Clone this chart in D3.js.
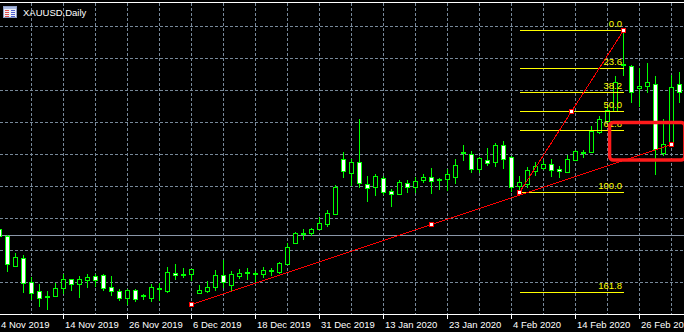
<!DOCTYPE html>
<html>
<head>
<meta charset="utf-8">
<script src="https://cdn.jsdelivr.net/npm/d3@7"></script>
<style>
html, body { margin: 0; padding: 0; background: #000; overflow: hidden; }
svg { display: block; }
text { font-family: "Liberation Sans", Arial, sans-serif; font-size: 9.5px; }
</style>
</head>
<body>
<svg id="chart" width="684" height="332"></svg>
<script>
// XAUUSD daily bars, 4 Nov 2019 .. 4 Mar 2020
var dates = [
  "2019-11-04","2019-11-05","2019-11-06","2019-11-07","2019-11-08","2019-11-11","2019-11-12","2019-11-13","2019-11-14","2019-11-15",
  "2019-11-18","2019-11-19","2019-11-20","2019-11-21","2019-11-22","2019-11-25","2019-11-26","2019-11-27","2019-11-28","2019-11-29",
  "2019-12-02","2019-12-03","2019-12-04","2019-12-05","2019-12-06","2019-12-09","2019-12-10","2019-12-11","2019-12-12","2019-12-13",
  "2019-12-16","2019-12-17","2019-12-18","2019-12-19","2019-12-20","2019-12-23","2019-12-24","2019-12-26","2019-12-27","2019-12-30",
  "2019-12-31","2020-01-02","2020-01-03","2020-01-06","2020-01-07","2020-01-08","2020-01-09","2020-01-10","2020-01-13","2020-01-14",
  "2020-01-15","2020-01-16","2020-01-17","2020-01-20","2020-01-21","2020-01-22","2020-01-23","2020-01-24","2020-01-27","2020-01-28",
  "2020-01-29","2020-01-30","2020-01-31","2020-02-03","2020-02-04","2020-02-05","2020-02-06","2020-02-07","2020-02-10","2020-02-11",
  "2020-02-12","2020-02-13","2020-02-14","2020-02-17","2020-02-18","2020-02-19","2020-02-20","2020-02-21","2020-02-24","2020-02-25",
  "2020-02-26","2020-02-27","2020-02-28","2020-03-02","2020-03-03","2020-03-04"
];

var open = [
  1514.6,1508.5,1482.3,1489.3,1468.3,1460.4,1455.1,1456.0,1463.0,1470.9,
  1466.5,1470.0,1473.5,1474.4,1463.9,1460.4,1454.3,1461.3,1456.0,1454.3,
  1462.1,1460.4,1476.1,1474.4,1475.3,1458.6,1460.4,1463.9,1474.4,1465.6,
  1473.5,1476.1,1475.3,1475.3,1477.9,1477.0,1484.0,1502.4,1510.3,1511.1,
  1514.6,1519.0,1527.8,1575.9,1563.6,1573.3,1554.0,1551.4,1559.3,1547.9,
  1545.3,1554.9,1551.4,1557.5,1560.1,1557.5,1558.4,1560.1,1581.1,1580.3,
  1567.1,1575.0,1573.3,1588.1,1577.6,1552.3,1554.0,1565.4,1568.0,1571.5,
  1567.1,1564.5,1575.0,1581.1,1582.0,1599.5,1609.1,1617.9,1658.1,1657.3,
  1638.0,1639.8,1641.5,1581.1,1588.1,1641.5
];
var high = [
  1515.5,1509.4,1493.6,1491.9,1472.6,1466.5,1460.4,1467.4,1475.3,1470.9,
  1473.5,1475.3,1475.3,1475.3,1473.5,1462.1,1462.1,1462.1,1457.8,1466.5,
  1467.4,1481.4,1484.0,1480.5,1479.6,1465.6,1469.1,1478.8,1487.5,1477.9,
  1479.6,1480.5,1477.9,1481.4,1480.5,1485.8,1502.4,1512.0,1514.6,1515.5,
  1525.1,1531.3,1553.1,1582.0,1575.9,1610.9,1561.0,1562.8,1561.0,1549.6,
  1557.5,1557.5,1560.1,1562.8,1568.0,1559.3,1567.1,1575.9,1588.1,1582.9,
  1577.6,1585.5,1589.9,1591.6,1578.5,1561.0,1568.9,1573.3,1575.0,1575.9,
  1569.8,1579.4,1583.8,1583.8,1604.8,1613.5,1622.3,1648.5,1688.8,1658.1,
  1655.5,1659.9,1648.5,1610.9,1649.4,1652.0
];
var low = [
  1506.8,1477.9,1482.3,1459.5,1453.4,1447.3,1444.6,1456.0,1458.6,1461.3,
  1455.1,1463.9,1464.8,1461.3,1456.9,1452.5,1449.0,1451.6,1453.4,1451.6,
  1452.5,1459.5,1470.9,1472.6,1470.0,1458.6,1459.5,1461.3,1463.9,1461.3,
  1471.8,1470.9,1469.1,1472.6,1474.4,1476.1,1484.0,1502.4,1505.9,1509.4,
  1514.6,1517.3,1527.8,1560.1,1553.1,1551.4,1539.1,1544.4,1545.3,1534.8,
  1545.3,1547.0,1547.0,1555.8,1546.1,1549.6,1548.8,1554.9,1575.0,1564.5,
  1564.5,1570.6,1569.8,1568.0,1547.9,1547.0,1551.4,1561.9,1567.1,1561.0,
  1560.1,1564.5,1575.0,1577.6,1582.0,1598.6,1608.3,1617.9,1649.4,1625.8,
  1622.3,1634.5,1562.8,1579.4,1588.1,1625.8
];
var close = [
  1508.5,1484.0,1490.1,1467.4,1458.6,1454.3,1455.1,1463.0,1470.9,1466.5,
  1470.9,1472.6,1470.0,1463.0,1460.4,1454.3,1461.3,1453.4,1456.0,1463.9,
  1462.1,1477.0,1474.4,1474.4,1479.6,1461.3,1463.9,1474.4,1468.3,1475.3,
  1476.1,1476.1,1475.3,1478.8,1477.9,1484.9,1498.9,1511.1,1510.3,1514.6,
  1519.9,1528.6,1551.4,1565.4,1573.3,1554.9,1550.5,1561.0,1547.0,1545.3,
  1555.8,1551.4,1556.6,1560.1,1556.6,1557.5,1562.8,1570.6,1581.1,1567.1,
  1576.8,1572.4,1588.1,1575.9,1551.4,1555.8,1566.3,1569.8,1571.5,1566.3,
  1565.4,1575.9,1582.9,1581.1,1600.4,1610.9,1618.8,1643.3,1658.1,1634.5,
  1639.8,1643.3,1584.6,1589.0,1638.9,1634.5
];

var gridPrices = [1692.25, 1664.25, 1636.25, 1608.25, 1580.25, 1552.25, 1524.25, 1496.25, 1468.25];
var hLinePrice = 1509.4;

// fibonacci from 5 Feb low to 24 Feb high
var fibBars = [65, 78];
var fibPrices = [1547.0, 1688.75];
var fibLevels = [0.0, 23.6, 38.2, 50.0, 61.8, 100.0, 161.8];

// trend line 6 Dec -> 3 Mar
var trendBars = [24, 84];
var trendPrices = [1449.0, 1589.0];

// highlight box
var boxBars = [76.1, 85.5];
var boxPrices = [1607.8, 1575.0];

var W = 684, H = 332, plotBottom = 314;
var svg = d3.select("#chart");
svg.append("rect").attr("width", W).attr("height", H).attr("fill", "#000");

var x = d3.scaleLinear().domain([0, dates.length - 1]).range([-1, -1 + 8 * (dates.length - 1)]);
var y = d3.scaleLinear().domain([1440.25, 1715]).range([plotBottom, 0]);
var parse = d3.timeParse("%Y-%m-%d");
var fmt = d3.timeFormat("%-d %b %Y");
var px = function(v){ return Math.round(v) + 0.5; };

var gridColor = "#778899";

// grid
var grid = svg.append("g").attr("shape-rendering", "crispEdges");
grid.selectAll("line.h").data(gridPrices).enter().append("line")
  .attr("x1", 0).attr("x2", W)
  .attr("y1", function(d){ return px(y(d)); })
  .attr("y2", function(d){ return px(y(d)); })
  .attr("stroke", gridColor).attr("stroke-dasharray", "3,2");

var vIdx = d3.range(4, dates.length, 4);
grid.selectAll("line.v").data(vIdx).enter().append("line")
  .attr("x1", function(i){ return px(x(i)); })
  .attr("x2", function(i){ return px(x(i)); })
  .attr("y1", 3).attr("y2", plotBottom)
  .attr("stroke", gridColor).attr("stroke-dasharray", "3,2");

// horizontal line object
grid.append("line")
  .attr("x1", 0).attr("x2", W)
  .attr("y1", px(y(hLinePrice))).attr("y2", px(y(hLinePrice)))
  .attr("stroke", "#8a96a8").attr("stroke-width", 1);

// top frame
svg.append("line").attr("x1", 0).attr("x2", W).attr("y1", 2.5).attr("y2", 2.5)
  .attr("stroke", "#fff").attr("shape-rendering", "crispEdges");

// candles
var bars = d3.range(dates.length);
var cg = svg.append("g").attr("shape-rendering", "crispEdges");
var candle = cg.selectAll("g").data(bars).enter().append("g");

candle.append("line")
  .attr("x1", function(i){ return px(x(i)); })
  .attr("x2", function(i){ return px(x(i)); })
  .attr("y1", function(i){ return Math.round(y(high[i])); })
  .attr("y2", function(i){ return Math.round(y(low[i])) + 1; })
  .attr("stroke", "#00ff00");

candle.each(function(i){
  var g = d3.select(this);
  var cx = Math.round(x(i));
  var top = Math.round(y(Math.max(open[i], close[i])));
  var bot = Math.round(y(Math.min(open[i], close[i])));
  if (bot - top < 1) {
    g.append("rect").attr("x", cx - 2).attr("y", top - 1).attr("width", 5).attr("height", 2)
      .attr("fill", "#00ff00");
  } else {
    g.append("rect").attr("x", cx - 1.5).attr("y", top + 0.5)
      .attr("width", 4).attr("height", bot - top)
      .attr("fill", close[i] < open[i] ? "#fff" : "#000")
      .attr("stroke", "#00ff00");
  }
});

// fibonacci levels
var fg = svg.append("g");
var fibPrice = function(lv){ return fibPrices[1] - (fibPrices[1] - fibPrices[0]) * lv / 100; };
fg.selectAll("line").data(fibLevels).enter().append("line")
  .attr("x1", px(x(fibBars[0]))).attr("x2", px(x(fibBars[1])))
  .attr("y1", function(d){ return px(y(fibPrice(d))); })
  .attr("y2", function(d){ return px(y(fibPrice(d))); })
  .attr("stroke", "#ffff00").attr("shape-rendering", "crispEdges");
fg.selectAll("text").data(fibLevels).enter().append("text")
  .attr("x", x(fibBars[1]) - 1)
  .attr("y", function(d){ return Math.round(y(fibPrice(d))) - 3; })
  .attr("text-anchor", "end").attr("fill", "#ffff00")
  .text(function(d){ return d.toFixed(1); });

// red lines with anchor squares
var tg = svg.append("g");
function redLine(b, p) {
  tg.append("line")
    .attr("x1", px(x(b[0]))).attr("y1", px(y(p[0])))
    .attr("x2", px(x(b[1]))).attr("y2", px(y(p[1])))
    .attr("stroke", "#ff0000").attr("shape-rendering", "crispEdges");
  var pts = [[b[0], p[0]], [(b[0] + b[1]) / 2, (p[0] + p[1]) / 2], [b[1], p[1]]];
  tg.selectAll(null).data(pts).enter().append("rect")
    .attr("x", function(d){ return Math.round(x(d[0])) - 1.5; })
    .attr("y", function(d){ return Math.round(y(d[1])) - 1.5; })
    .attr("width", 4).attr("height", 4)
    .attr("fill", "#fff").attr("stroke", "#ff0000").attr("stroke-width", 1.3)
    .attr("shape-rendering", "crispEdges");
}
redLine(trendBars, trendPrices);
redLine(fibBars, fibPrices);

// x axis
var ag = svg.append("g").attr("shape-rendering", "crispEdges");
ag.append("line").attr("x1", 0).attr("x2", W).attr("y1", plotBottom + 0.5).attr("y2", plotBottom + 0.5)
  .attr("stroke", "#fff");
var labIdx = d3.range(0, dates.length, 8);
ag.selectAll("line.t").data(labIdx).enter().append("line")
  .attr("x1", function(i){ return px(x(i)); })
  .attr("x2", function(i){ return px(x(i)); })
  .attr("y1", plotBottom).attr("y2", plotBottom + 5)
  .attr("stroke", "#fff");
svg.append("g").selectAll("text").data(labIdx).enter().append("text")
  .attr("x", function(i){ return x(i) + 2; })
  .attr("y", 327.5)
  .attr("fill", "#fff")
  .text(function(i){ return fmt(parse(dates[i])); });

// highlight box on top
svg.append("rect")
  .attr("x", x(boxBars[0]) + 1.8).attr("y", y(boxPrices[0]))
  .attr("width", x(boxBars[1]) - x(boxBars[0])).attr("height", y(boxPrices[1]) - y(boxPrices[0]))
  .attr("rx", 3.5).attr("fill", "none").attr("stroke", "#ff1a1a").attr("stroke-width", 3.4);

// title with small window icon
var ic = svg.append("g").attr("shape-rendering", "crispEdges");
ic.append("rect").attr("x", 3.5).attr("y", 6.5).attr("width", 13).attr("height", 11)
  .attr("fill", "#eef0f8").attr("stroke", "#8c9cc4");
ic.append("rect").attr("x", 4).attr("y", 7).attr("width", 12).attr("height", 2).attr("fill", "#a8b8e0");
[10, 12, 14, 16].forEach(function(r){
  ic.append("rect").attr("x", 5).attr("y", r).attr("width", 4).attr("height", 1).attr("fill", "#e05050");
  ic.append("rect").attr("x", 11).attr("y", r).attr("width", 4).attr("height", 1).attr("fill", "#5060d0");
});
svg.append("text").attr("x", 23).attr("y", 16).attr("fill", "#fff").text("XAUUSD,Daily");
</script>
</body>
</html>
